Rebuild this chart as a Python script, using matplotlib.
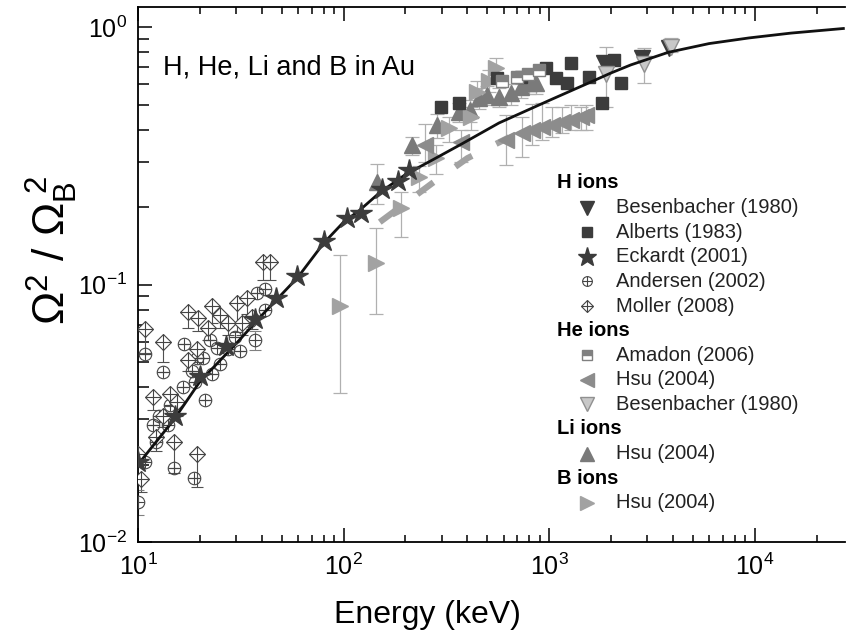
# -*- coding: utf-8 -*-
"""Shrinkage ratio of the energy-loss straggling of light ions in gold."""

import matplotlib
matplotlib.use("Agg")
import matplotlib.pyplot as plt
from matplotlib.ticker import LogLocator, NullFormatter

plt.rcParams['font.family'] = ['Liberation Sans', 'DejaVu Sans']
plt.rcParams['mathtext.fontset'] = 'custom'
plt.rcParams['mathtext.rm'] = 'Liberation Sans'
plt.rcParams['mathtext.it'] = 'Liberation Sans'

# Theory curve (keV, ratio).
curve_E = [10, 15, 20, 30, 40, 60, 80, 100, 120, 150, 200, 270, 370, 570, 1000,
           1500, 2000, 2500, 3800, 6000, 9400, 15000, 27000]
curve_y = [0.020, 0.030, 0.042, 0.059, 0.076, 0.107, 0.145, 0.175, 0.195, 0.228,
           0.268, 0.305, 0.350, 0.425, 0.520, 0.600, 0.665, 0.715, 0.800, 0.865,
           0.910, 0.950, 0.990]

# H ions.
besenH_E = [1850, 2825, 3830]
besenH_y = [0.73, 0.76, 0.83]

alberts_E = [299, 366, 560, 732, 967, 1081, 1222, 1279, 1564, 1806, 2068, 2239]
alberts_y = [0.489, 0.51, 0.634, 0.64, 0.693, 0.634, 0.606, 0.725, 0.64, 0.51, 0.744, 0.61]

eckardt_E = [10.0, 15.1, 20.0, 26.7, 37.0, 46.8, 59.2, 80.0, 103.5, 122, 154, 183, 209]
eckardt_y = [0.0205, 0.031, 0.044, 0.058, 0.0735, 0.089, 0.108, 0.148, 0.181, 0.19,
             0.235, 0.252, 0.278]

andersen_E = [10.0, 10.8, 10.8, 11.8, 12.3, 12.7, 13.2, 14.0, 14.3, 15.0, 16.5, 16.8,
              18.3, 18.7, 18.9, 19.3, 20.7, 21.2, 22.4, 23.0, 24.2, 25.0, 27.3, 29.6,
              31.2, 35.0, 37.0, 37.9, 41.3, 41.3]
andersen_y = [0.0143, 0.0205, 0.054, 0.0285, 0.0245, 0.031, 0.0458, 0.0285, 0.034,
              0.0194, 0.040, 0.059, 0.046, 0.0177, 0.042, 0.052, 0.052, 0.0356, 0.0608,
              0.045, 0.057, 0.049, 0.056, 0.0625, 0.055, 0.072, 0.0608, 0.093, 0.096,
              0.080]
andersen_err = [0.0016, 0, 0, 0, 0, 0, 0, 0, 0, 0, 0, 0, 0, 0, 0, 0, 0, 0, 0, 0,
                0, 0, 0, 0, 0, 0, 0.005, 0, 0, 0]

moller_E = [10.0, 10.3, 10.8, 11.8, 12.2, 13.2, 13.2, 14.3, 15.0, 15.5, 17.5, 17.5,
            19.3, 19.3, 19.5, 21.9, 22.8, 25.0, 27.3, 30.2, 32.0, 33.9, 36.0, 40.4, 43.7]
moller_y = [0.022, 0.0176, 0.067, 0.0366, 0.0256, 0.031, 0.060, 0.0377, 0.0245, 0.035,
            0.078, 0.051, 0.022, 0.056, 0.074, 0.068, 0.083, 0.076, 0.071, 0.085, 0.071,
            0.089, 0.075, 0.122, 0.122]
moller_err = [0.002, 0.002, 0.0125, 0.004, 0.003, 0.003, 0.010, 0.004, 0.0059, 0.004,
              0.010, 0.005, 0.0057, 0.006, 0.008, 0.007, 0.012, 0.008, 0.007, 0.0195,
              0.007, 0.012, 0.008, 0.018, 0.018]

# He ions.
amadon_E = [590, 700, 790, 890]
amadon_y = [0.62, 0.64, 0.66, 0.68]

hsuHe_E = [250, 374, 618, 740, 827, 925, 1034, 1157, 1279, 1430, 1513]
hsuHe_y = [0.350, 0.357, 0.364, 0.388, 0.398, 0.409, 0.417, 0.428, 0.436, 0.447, 0.455]
hsuHe_lo = [0.30, 0.30, 0.291, 0.313, 0.348, 0.364, 0.374, 0.388, 0.398, 0.398, 0.40]
hsuHe_hi = [0.42, 0.40, 0.455, 0.447, 0.506, 0.51, 0.49, 0.49, 0.50, 0.49, 0.50]

besenHe_E = [1890, 2890, 3900]
besenHe_y = [0.66, 0.72, 0.84]
besenHe_lo = [0.49, 0.61, 0.80]
besenHe_hi = [0.836, 0.83, 0.906]

# Li ions.
hsuLi_E = [145, 216, 286, 366, 410, 457, 500, 571, 654, 732, 800, 865]
hsuLi_y = [0.25, 0.348, 0.416, 0.47, 0.476, 0.53, 0.545, 0.535, 0.554, 0.585, 0.606, 0.606]
hsuLi_lo = [0.205, 0.32, 0.37, 0.43, 0.43, 0.48, 0.50, 0.49, 0.50, 0.53, 0.55, 0.55]
hsuLi_hi = [0.294, 0.374, 0.46, 0.51, 0.52, 0.58, 0.59, 0.58, 0.60, 0.64, 0.66, 0.66]

# B ions.
hsuB_E = [95.7, 144.5, 191, 234, 283, 327, 418, 447, 511, 553]
hsuB_y = [0.083, 0.121, 0.198, 0.262, 0.31, 0.405, 0.447, 0.56, 0.62, 0.693]
hsuB_lo = [0.038, 0.077, 0.153, 0.23, 0.27, 0.36, 0.40, 0.50, 0.56, 0.62]
hsuB_hi = [0.130, 0.166, 0.229, 0.29, 0.35, 0.45, 0.49, 0.62, 0.68, 0.76]

# B ions, dense high-energy set.
hsuB_dense_E = [150, 270, 400, 640]
hsuB_dense_y = [0.175, 0.248, 0.31, 0.374]


def asym(y, lo, hi):
    return [[a - b for a, b in zip(y, lo)], [b - a for a, b in zip(y, hi)]]


fig = plt.figure(figsize=(8.46, 6.37), dpi=100)
ax = fig.add_axes([138 / 846, 1 - 542 / 637, 707 / 846, 535 / 637])
ax.set_xscale('log')
ax.set_yscale('log')

dark = '#3c3c3c'
mid = '#7a7a7a'
light = '#a2a2a2'
bar_light = '#b0b0b0'

# Error bars first, so markers sit on top.
ax.errorbar(moller_E, moller_y, yerr=[moller_err, [0] * len(moller_err)], fmt='none',
            ecolor='#505050', elinewidth=0.8, capsize=4, capthick=0.8, zorder=2)
ax.errorbar(andersen_E, andersen_y, yerr=[andersen_err, andersen_err], fmt='none',
            ecolor='#808080', elinewidth=0.8, capsize=4, capthick=0.8, zorder=2)
for E, y, lo, hi in [(hsuHe_E, hsuHe_y, hsuHe_lo, hsuHe_hi),
                     (besenHe_E, besenHe_y, besenHe_lo, besenHe_hi),
                     (hsuLi_E, hsuLi_y, hsuLi_lo, hsuLi_hi),
                     (hsuB_E, hsuB_y, hsuB_lo, hsuB_hi)]:
    ax.errorbar(E, y, yerr=asym(y, lo, hi), fmt='none', ecolor=bar_light,
                elinewidth=0.9, capsize=5, capthick=0.9, zorder=2)

ax.plot(hsuB_dense_E, hsuB_dense_y, color=light, lw=4.5, dashes=(3.2, 4.3), zorder=3)

ax.plot(andersen_E, andersen_y, 'o', ms=9, mfc='none', mec='#444444', mew=0.8, zorder=4)
ax.plot(andersen_E, andersen_y, '+', ms=9, mec='#444444', mew=0.8, zorder=4)
ax.plot(moller_E, moller_y, 'D', ms=8, mfc='white', mec='#444444', mew=0.8, zorder=4)
ax.plot(moller_E, moller_y, '+', ms=11, mec='#444444', mew=0.8, zorder=4)

ax.plot(hsuLi_E, hsuLi_y, '^', ms=11, color=mid, mec=mid, zorder=5)
ax.plot(hsuB_E, hsuB_y, '>', ms=11, color=light, mec=light, zorder=5)
ax.plot(hsuHe_E, hsuHe_y, '<', ms=11, color='#8c8c8c', mec='#8c8c8c', zorder=5)
ax.plot(alberts_E, alberts_y, 's', ms=9, color=dark, mec=dark, zorder=5)
ax.plot(amadon_E, amadon_y, 's', ms=9, fillstyle='top', mfc='#808080',
        mfcalt='white', mec='#808080', zorder=5)
ax.plot(besenH_E, besenH_y, 'v', ms=11, color=dark, mec=dark, zorder=5)
ax.plot(besenHe_E, besenHe_y, 'v', ms=11, mfc='#c8c8c8', mec='#909090', zorder=6)

ax.plot(curve_E, curve_y, color='#111111', lw=2, zorder=7)
ax.plot(eckardt_E, eckardt_y, '*', ms=16, color=dark, mec=dark, zorder=8)

ax.set_xlim(10, 2.75e4)
ax.set_ylim(0.01, 1.2)
ax.spines['right'].set_visible(False)
for s in ['left', 'bottom', 'top']:
    ax.spines[s].set_linewidth(1.3)

ax.xaxis.set_minor_locator(LogLocator(base=10, subs=range(2, 10), numticks=20))
ax.yaxis.set_minor_locator(LogLocator(base=10, subs=range(2, 10), numticks=20))
ax.xaxis.set_minor_formatter(NullFormatter())
ax.yaxis.set_minor_formatter(NullFormatter())
ax.tick_params(which='both', direction='in', top=True, right=False, width=1.1)
ax.tick_params(which='major', length=10, labelsize=18)
ax.tick_params(axis='x', which='major', pad=8)
ax.tick_params(axis='y', which='major', pad=8)
ax.tick_params(axis='x', which='minor', length=5)
ax.tick_params(axis='y', which='minor', length=8)

ax.set_xlabel('Energy (keV)', fontsize=23)
ax.xaxis.set_label_coords((427 - 138) / 707, (542 - 600) / 535)
ax.set_ylabel(r'$\mathdefault{\Omega^2\ /\ \Omega_B^{\ 2}}$', fontsize=32)
ax.yaxis.set_label_coords((80 - 138) / 707, (542 - 250) / 535)

ax.text((163 - 138) / 707, (542 - 75) / 535, 'H, He, Li and B in Au',
        transform=ax.transAxes, fontsize=19.5, va='baseline', ha='left')

# Grouped legend drawn by hand.
rows = [
    ('H ions', None),
    ('Besenbacher (1980)', dict(marker='v', ms=10, color=dark, mec=dark)),
    ('Alberts (1983)', dict(marker='s', ms=7, color=dark, mec=dark)),
    ('Eckardt (2001)', dict(marker='*', ms=14, color=dark, mec=dark)),
    ('Andersen (2002)', 'oplus'),
    ('Moller (2008)', 'dplus'),
    ('He ions', None),
    ('Amadon (2006)', dict(marker='s', ms=7, fillstyle='top', mfc='#808080',
                           mfcalt='white', mec='#808080')),
    ('Hsu (2004)', dict(marker='<', ms=10, color='#8c8c8c', mec='#8c8c8c')),
    ('Besenbacher (1980)', dict(marker='v', ms=10, mfc='#c8c8c8', mec='#909090')),
    ('Li ions', None),
    ('Hsu (2004)', dict(marker='^', ms=10, color=mid, mec=mid)),
    ('B ions', None),
    ('Hsu (2004)', dict(marker='>', ms=10, color=light, mec=light)),
]
x_head = (557 - 138) / 707
x_mark = (587 - 138) / 707
x_text = (616 - 138) / 707
for i, (label, style) in enumerate(rows):
    yy = (542 - (183 + 24.6 * i)) / 535
    if style is None:
        ax.text(x_head, yy, label, transform=ax.transAxes, fontsize=14.5,
                fontweight='bold', va='center', ha='left')
        continue
    if style == 'oplus':
        ax.plot([x_mark], [yy], 'o', ms=7, mfc='none', mec='#444444', mew=0.8,
                transform=ax.transAxes, clip_on=False)
        ax.plot([x_mark], [yy], '+', ms=7, mec='#444444', mew=0.8,
                transform=ax.transAxes, clip_on=False)
    elif style == 'dplus':
        ax.plot([x_mark], [yy], 'D', ms=6, mfc='white', mec='#444444', mew=0.8,
                transform=ax.transAxes, clip_on=False)
        ax.plot([x_mark], [yy], '+', ms=9, mec='#444444', mew=0.8,
                transform=ax.transAxes, clip_on=False)
    else:
        ax.plot([x_mark], [yy], linestyle='none', transform=ax.transAxes,
                clip_on=False, **style)
    ax.text(x_text, yy, label, transform=ax.transAxes, fontsize=14.5,
            va='center', ha='left', color='#222222')

fig.savefig('out.png', dpi=100)
